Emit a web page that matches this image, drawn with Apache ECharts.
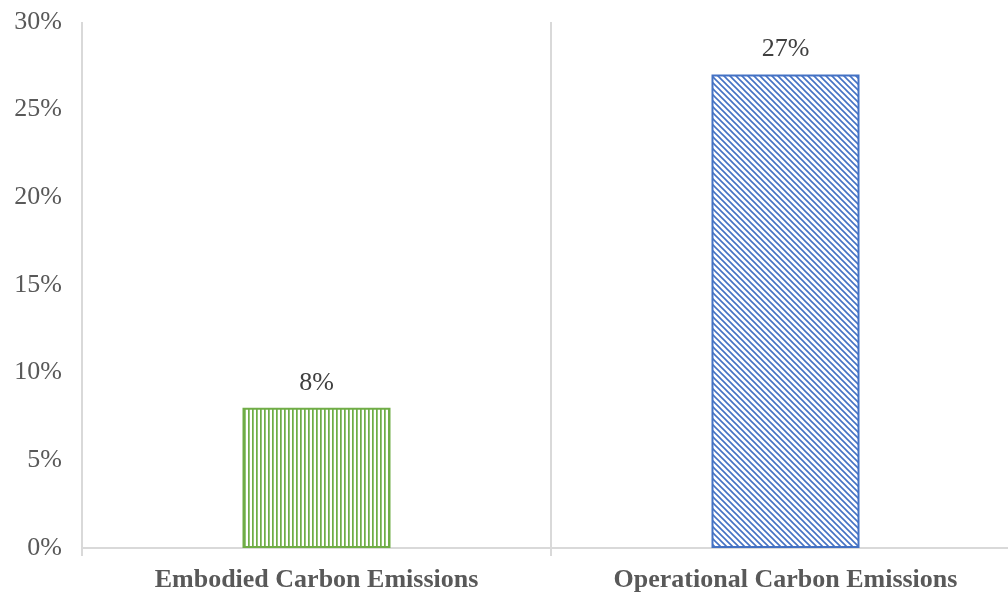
<!DOCTYPE html>
<html lang="en">

<head>
    <meta charset="UTF-8">
    <title>Carbon emissions share</title>
    <script src="https://cdn.jsdelivr.net/npm/echarts@6/dist/echarts.min.js"></script>
    <style>
        body {
            margin: 0;
            background: #fff;
        }

        #root {
            width: 1008px;
            height: 596px;
        }
    </style>
</head>

<body>

    <div id="root"></div>
    <script>

        var categories = ['Embodied Carbon Emissions', 'Operational Carbon Emissions'];
        var shares = [8, 27];
        var yTicks = { min: 0, max: 30, interval: 5 };

        // vertical stripes for the green bar
        function stripePattern() {
            var c = document.createElement('canvas');
            c.width = 4;
            c.height = 4;
            var ctx = c.getContext('2d');
            ctx.fillStyle = '#fff';
            ctx.fillRect(0, 0, 4, 4);
            ctx.fillStyle = '#70ad47';
            ctx.fillRect(0, 0, 1, 4);
            ctx.fillStyle = '#94c47a';
            ctx.fillRect(1, 0, 1, 4);
            return c;
        }

        // "\" diagonal hatching for the blue bar
        function hatchPattern() {
            var n = 6;
            var c = document.createElement('canvas');
            c.width = n;
            c.height = n;
            var ctx = c.getContext('2d');
            ctx.fillStyle = '#fff';
            ctx.fillRect(0, 0, n, n);
            ctx.strokeStyle = '#4472c4';
            ctx.lineWidth = 1.6;
            ctx.beginPath();
            ctx.moveTo(-1, -1);
            ctx.lineTo(n + 1, n + 1);
            ctx.moveTo(-1, n - 1);
            ctx.lineTo(1, n + 1);
            ctx.moveTo(n - 1, -1);
            ctx.lineTo(n + 1, 1);
            ctx.stroke();
            return c;
        }

        var styles = [
            { fill: stripePattern(), border: '#70ad47' },
            { fill: hatchPattern(), border: '#4472c4' }
        ];

        var mychart = echarts.init(document.getElementById('root'), null, { renderer: 'canvas' });

        mychart.setOption({
            animation: false,
            grid: {
                left: 82,
                top: 22,
                bottom: 48,
                width: 938,
                outerBoundsMode: 'none'
            },
            xAxis: {
                type: 'category',
                data: categories,
                axisLine: { lineStyle: { color: '#d9d9d9', width: 2 } },
                axisTick: { show: true, length: 8, lineStyle: { color: '#d9d9d9', width: 2 } },
                splitLine: { show: true, lineStyle: { color: '#d9d9d9', width: 2 } },
                axisLabel: {
                    margin: 19,
                    color: '#595959',
                    fontFamily: 'Liberation Serif',
                    fontWeight: 'bold',
                    fontSize: 26
                }
            },
            yAxis: {
                type: 'value',
                min: yTicks.min,
                max: yTicks.max,
                interval: yTicks.interval,
                axisLine: { show: false },
                axisTick: { show: false },
                splitLine: { show: false },
                axisLabel: {
                    margin: 20,
                    formatter: '{value}%',
                    color: '#595959',
                    fontFamily: 'Liberation Serif',
                    fontSize: 26
                }
            },
            series: [{
                type: 'bar',
                barWidth: 148,
                data: shares.map(function (v, i) {
                    return {
                        value: v,
                        itemStyle: {
                            color: { image: styles[i].fill, repeat: 'repeat' },
                            borderColor: styles[i].border,
                            borderWidth: 2
                        }
                    };
                }),
                label: {
                    show: true,
                    position: 'top',
                    distance: 12,
                    formatter: '{c}%',
                    color: '#404040',
                    fontFamily: 'Liberation Serif',
                    fontSize: 26
                }
            }]
        });

    </script>

</body>

</html>
